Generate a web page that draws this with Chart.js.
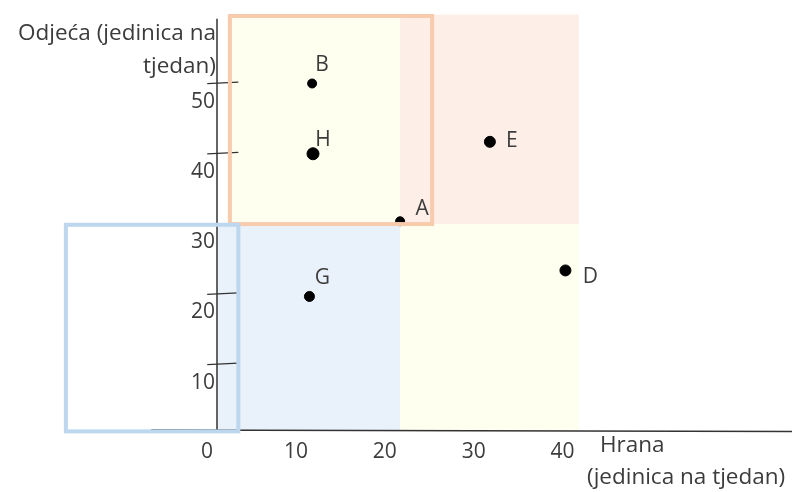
<!DOCTYPE html>
<html>
<head>
<meta charset="utf-8">
<script src="https://cdn.jsdelivr.net/npm/chart.js@4"></script>
<style>
  html, body { margin: 0; padding: 0; background: #fff; }
  #wrap { width: 792px; height: 492px; position: relative; }
</style>
</head>
<body>
<div id="wrap"><canvas id="chart"></canvas></div>
<script>
// tocke: hrana (x) i odjeca (y), jedinica na tjedan
const pointNames = ['B', 'H', 'A', 'E', 'G', 'D'];
const foodValues = [10.7, 10.8, 20.6, 30.7, 10.4, 39.2];
const clothValues = [49.3, 39.3, 29.7, 41.0, 19.0, 22.7];
const xTicks = [0, 10, 20, 30, 40];
const yTicks = [10, 20, 30, 40, 50];
const yTickMarks = [10, 20, 40, 50];

const FONT = '"Open Sans", sans-serif';
const TEXT = '#3c3c3c';

// kvadranti i okviri (u jedinicama osi)
const quadrants = [
  { x0: 20.6, x1: 40.7, y0: 29.3, y1: 59.1, c: '#FDEEE8' },
  { x0: 1.2, x1: 20.6, y0: 29.3, y1: 59.1, c: '#FEFFEF' },
  { x0: 20.6, x1: 40.7, y0: 0, y1: 29.3, c: '#FEFFEF' },
  { x0: 0, x1: 20.6, y0: 0, y1: 29.3, c: '#E9F1FA' }
];
const boxes = [
  { x0: 1.45, x1: 24.2, y0: 29.3, y1: 58.9, c: '#F8CBAD' },
  { x0: -17.0, x1: 2.4, y0: -0.2, y1: 29.2, c: '#BDD7EE' }
];
const labelOffsets = {
  B: [10, -18], H: [10, -14], A: [22, -12], E: [22, -1], G: [13, -18], D: [25, 7]
};

const sketch = {
  id: 'sketch',
  beforeDatasetsDraw(chart) {
    const { ctx, scales: { x, y } } = chart;
    ctx.save();
    quadrants.forEach(q => {
      ctx.fillStyle = q.c;
      const px0 = x.getPixelForValue(q.x0), px1 = x.getPixelForValue(q.x1);
      const py0 = y.getPixelForValue(q.y0), py1 = y.getPixelForValue(q.y1);
      ctx.fillRect(px0, py1, px1 - px0, py0 - py1);
    });
    // osi
    ctx.strokeStyle = '#333';
    ctx.lineWidth = 1.5;
    ctx.beginPath();
    ctx.moveTo(x.getPixelForValue(-7.4), y.getPixelForValue(0));
    ctx.lineTo(chart.width, y.getPixelForValue(-0.2));
    ctx.moveTo(x.getPixelForValue(0), y.getPixelForValue(0));
    ctx.lineTo(x.getPixelForValue(0), y.getPixelForValue(58.5));
    ctx.stroke();
    // crtice na osi y (rucno nacrtane, malo nize)
    ctx.lineWidth = 1.3;
    yTickMarks.forEach(v => {
      ctx.beginPath();
      ctx.moveTo(x.getPixelForValue(-1.1), y.getPixelForValue(v) + 5);
      ctx.lineTo(x.getPixelForValue(2.4), y.getPixelForValue(v) + 3.5);
      ctx.stroke();
    });
    ctx.restore();
  },
  afterDatasetsDraw(chart) {
    const { ctx, scales: { x, y } } = chart;
    ctx.save();
    boxes.forEach(b => {
      ctx.strokeStyle = b.c;
      ctx.lineWidth = 4;
      const px0 = x.getPixelForValue(b.x0), px1 = x.getPixelForValue(b.x1);
      const py0 = y.getPixelForValue(b.y0), py1 = y.getPixelForValue(b.y1);
      ctx.strokeRect(px0, py1, px1 - px0, py0 - py1);
    });
    // oznake tocaka
    ctx.fillStyle = TEXT;
    ctx.font = '21px ' + FONT;
    ctx.textAlign = 'center';
    ctx.textBaseline = 'middle';
    const meta = chart.getDatasetMeta(0);
    meta.data.forEach((el, i) => {
      const name = pointNames[i];
      const off = labelOffsets[name];
      ctx.fillText(name, el.x + off[0], el.y + off[1]);
    });
    // naslovi osi
    ctx.font = '22.5px ' + FONT;
    ctx.textAlign = 'right';
    ctx.fillText('Odjeća (jedinica na', 216, 34);
    ctx.fillText('tjedan)', 216, 67);
    ctx.textAlign = 'left';
    ctx.fillText('Hrana', 600, 446);
    ctx.fillText('(jedinica na tjedan)', 587, 478);
    ctx.restore();
  }
};

new Chart(document.getElementById('chart'), {
  type: 'scatter',
  data: {
    datasets: [{
      data: foodValues.map((v, i) => ({ x: v, y: clothValues[i] })),
      backgroundColor: '#000',
      borderColor: '#000',
      pointRadius: [4.5, 6, 4.5, 5.5, 5, 5.5],
      pointHoverRadius: [4.5, 6, 4.5, 5.5, 5, 5.5]
    }]
  },
  options: {
    responsive: true,
    maintainAspectRatio: false,
    animation: false,
    layout: { padding: { left: 0, right: 0, top: 14, bottom: 0 } },
    plugins: { legend: { display: false }, tooltip: { enabled: false } },
    scales: {
      x: {
        type: 'linear',
        min: 0,
        max: 63.9,
        afterFit: s => { s.height = 62; },
        afterBuildTicks: s => { s.ticks = xTicks.map(v => ({ value: v })); },
        grid: { display: false, drawTicks: false },
        border: { display: false },
        ticks: {
          padding: 9,
          labelOffset: -10,
          color: TEXT,
          font: { family: FONT, size: 21 }
        }
      },
      y: {
        type: 'linear',
        min: 0,
        max: 59.1,
        afterFit: s => { s.width = 217; },
        afterBuildTicks: s => { s.ticks = yTicks.map(v => ({ value: v })); },
        grid: { display: false, drawTicks: false },
        border: { display: false },
        ticks: {
          padding: 2,
          labelOffset: 23,
          color: TEXT,
          font: { family: FONT, size: 21 }
        }
      }
    }
  },
  plugins: [sketch]
});
</script>
</body>
</html>
